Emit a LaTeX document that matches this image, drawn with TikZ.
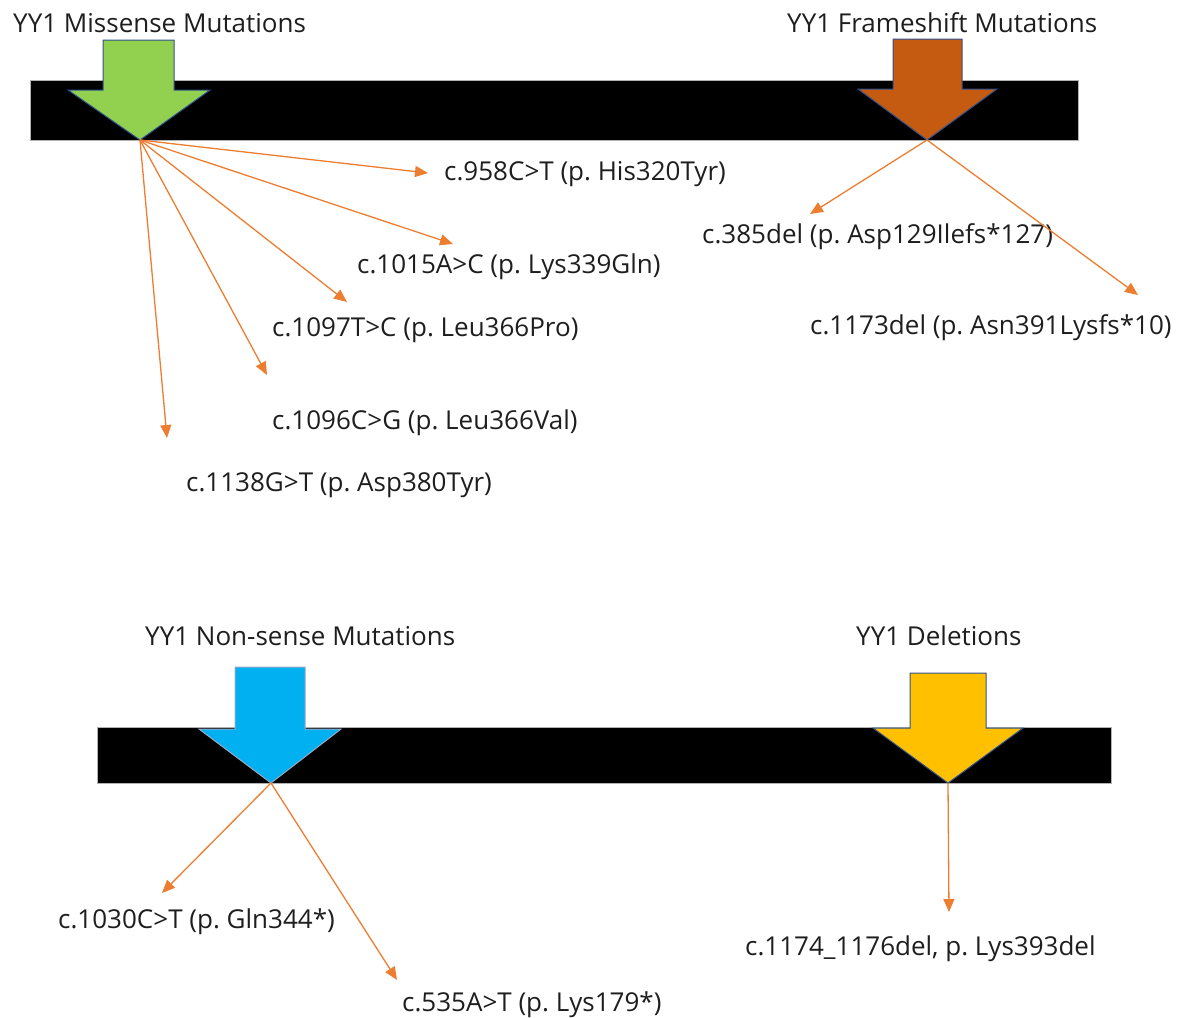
\documentclass[tikz,border=0pt]{standalone}
\usepackage{fontspec}
\setmainfont{Open Sans}
\frenchspacing
\usetikzlibrary{arrows.meta}
\definecolor{misgreen}{HTML}{92D050}
\definecolor{fsbrown}{HTML}{C55A11}
\definecolor{nsblue}{HTML}{00B0F0}
\definecolor{delyellow}{HTML}{FFC000}
\definecolor{linkorange}{HTML}{ED7D31}
\definecolor{edgeblue}{HTML}{2F528F}
\definecolor{txt}{HTML}{1E1E1E}
\begin{document}
\begin{tikzpicture}[x=1pt,y=-1pt,
  lbl/.style={anchor=base west,inner sep=0pt,text=txt,font=\fontsize{26}{30}\selectfont},
  bar/.style={fill=black,draw=gray!60,line width=0.6pt},
  blockarrow/.style={draw=edgeblue,line width=1pt,line join=miter},
  link/.style={draw=linkorange,line width=1.3pt,-{Triangle[length=13pt,width=11pt]}}]
\useasboundingbox (0,0) rectangle (1195,1018);
% bars
\path[bar] (30,80) rectangle (1078,140);
\path[bar] (97,727) rectangle (1111,783);
% block arrows
\path[blockarrow,fill=misgreen] (103,40) -- (174,40) -- (174,90) -- (210,90) -- (140,140) -- (68,90) -- (103,90) -- cycle;
\path[blockarrow,fill=fsbrown] (893,39) -- (962,39) -- (962,89) -- (997,89) -- (927,140) -- (858,89) -- (893,89) -- cycle;
\path[blockarrow,fill=nsblue,draw=edgeblue!50] (235,667) -- (305,667) -- (305,729) -- (341,729) -- (271,783) -- (199,729) -- (235,729) -- cycle;
\path[blockarrow,fill=delyellow] (910,673) -- (986,673) -- (986,728) -- (1023,728) -- (948,783) -- (873,728) -- (910,728) -- cycle;
% tips
\coordinate (mis) at (140,140);
\coordinate (fs) at (927,140);
\coordinate (ns) at (271,783);
\coordinate (del) at (948,783);
% titles
\node[lbl] (tmis) at (13,32) {YY1 Missense Mutations};
\node[lbl] (tfs) at (787,32) {YY1 Frameshift Mutations};
\node[lbl] (tns) at (145,645) {YY1 Non-sense Mutations};
\node[lbl] (tdel) at (856,645) {YY1 Deletions};
% labels
\node[lbl] (m1) at (444,180) {c.958C>T (p. His320Tyr)};
\node[lbl] (m2) at (357,273) {c.1015A>C (p. Lys339Gln)};
\node[lbl] (m3) at (272,336) {c.1097T>C (p. Leu366Pro)};
\node[lbl] (m4) at (272,429) {c.1096C>G (p. Leu366Val)};
\node[lbl] (m5) at (186,491) {c.1138G>T (p. Asp380Tyr)};
\node[lbl] (f1) at (702,243) {c.385del (p. Asp129Ilefs*127)};
\node[lbl] (f2) at (810,334) {c.1173del (p. Asn391Lysfs*10)};
\node[lbl] (n1) at (58,928) {c.1030C>T (p. Gln344*)};
\node[lbl] (n2) at (402,1011) {c.535A>T (p. Lys179*)};
\node[lbl] (d1) at (745,955) {c.1174\_1176del, p. Lys393del};
% connector ends
\coordinate (e1) at (428,173);
\coordinate (e2) at (453,244);
\coordinate (e3) at (347,302);
\coordinate (e4) at (267,375);
\coordinate (e5) at (167,438);
\coordinate (ef1) at (810,214);
\coordinate (ef2) at (1138,295);
\coordinate (en1) at (162,893);
\coordinate (en2) at (397,980);
\coordinate (ed1) at (949,912);
% connectors
\draw[link] (mis) -- (e1);
\draw[link] (mis) -- (e2);
\draw[link] (mis) -- (e3);
\draw[link] (mis) -- (e4);
\draw[link] (mis) -- (e5);
\draw[link] (fs) -- (ef1);
\draw[link] (fs) -- (ef2);
\draw[link] (ns) -- (en1);
\draw[link] (ns) -- (en2);
\draw[link] (del) -- (ed1);
\end{tikzpicture}
\end{document}
